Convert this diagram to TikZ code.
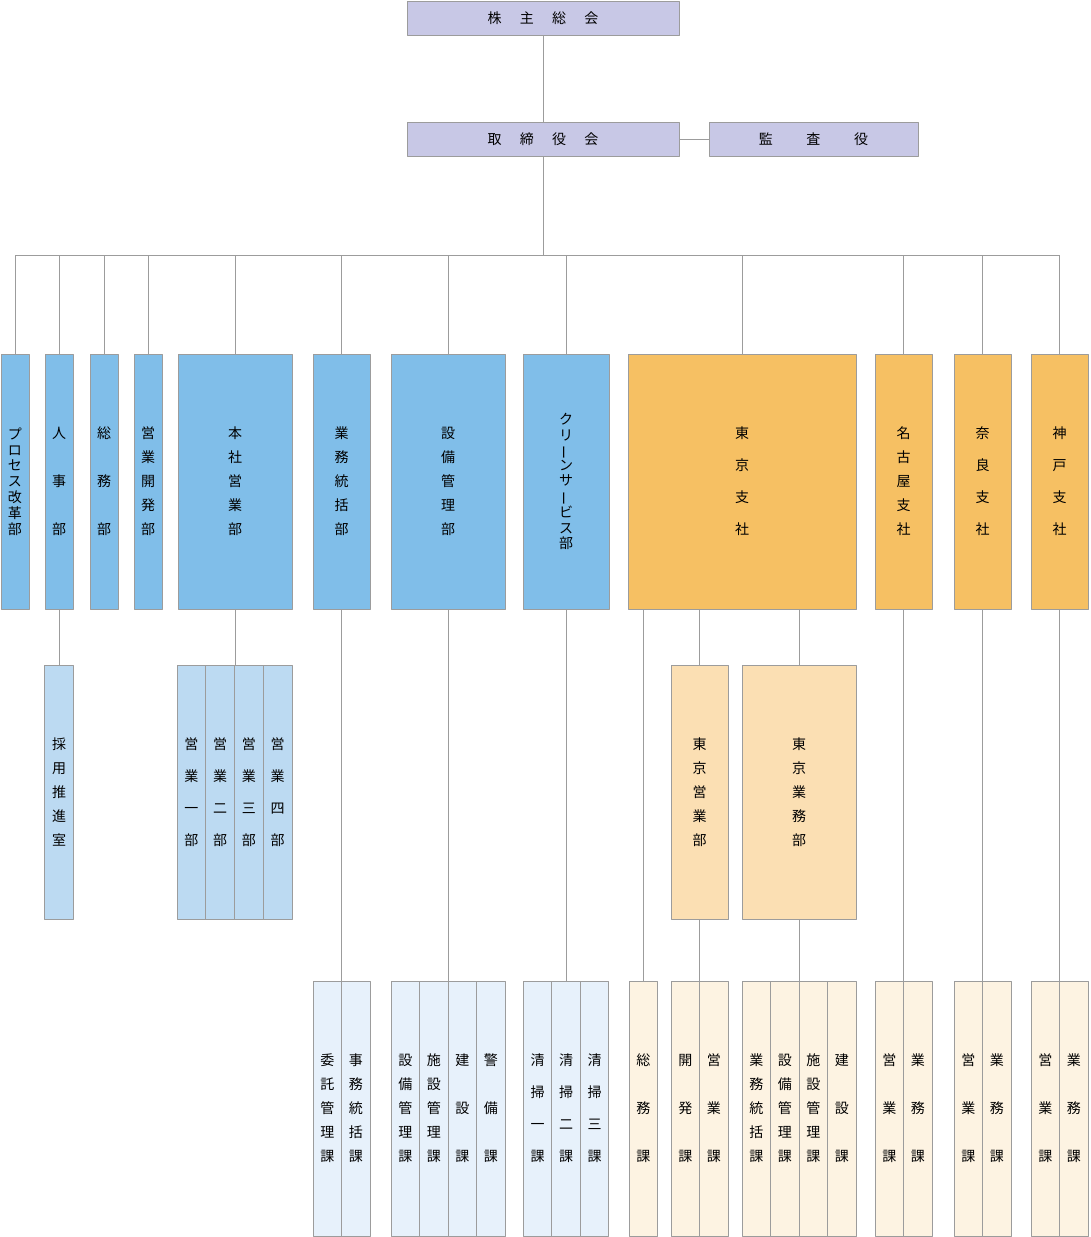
\documentclass[tikz,border=0pt]{standalone}
\usepackage{fontspec}
\newfontfamily\jp{Noto Sans CJK JP}
\usetikzlibrary{positioning}

\definecolor{wire}{HTML}{9C9C9C}
\definecolor{board}{HTML}{C8C8E6}
\definecolor{dept}{HTML}{80BEE9}
\definecolor{sect}{HTML}{BCDAF2}
\definecolor{unit}{HTML}{E7F1FB}
\definecolor{branch}{HTML}{F6C063}
\definecolor{bsect}{HTML}{FBDFB3}
\definecolor{bunit}{HTML}{FDF3E2}

\begin{document}
\begin{tikzpicture}[
  x=1pt, y=-1pt,
  line join=round,
  box/.style={draw=wire, line width=0.9pt, inner sep=0pt, outer sep=0pt, align=center},
  top/.style={box, fill=board, minimum width=272, minimum height=34,
    font=\jp\fontsize{14}{17}\selectfont},
  col/.style={box, minimum width=28.5, minimum height=255},
  sp/.style={font=\jp\fontsize{14}{#1}\selectfont},
  link/.style={draw=wire, line width=0.9pt},
]
\useasboundingbox (0,0) rectangle (1090,1237);

% ── the meeting, the board and the auditor ───────────────────────────────
\node[top] (agm) at (543,18) {株\hskip1.3em主\hskip1.3em総\hskip1.3em会};
\node[top] (bod) at (543,139) {取\hskip1.3em締\hskip1.3em役\hskip1.3em会};
\node[top, minimum width=209] (audit) at (813.5,139) {監\hskip2.4em査\hskip2.4em役};

% ── departments and branches ─────────────────────────────────────────────
\node[col, fill=dept, minimum width=28, sp=15.8] (kaikaku) at (15,481.5) {プ\\ロ\\セ\\ス\\改\\革\\部};
\node[col, fill=dept, minimum width=28, sp=48] (jinji) at (59,481.5) {人\\事\\部};
\node[col, fill=dept, minimum width=28, sp=48] (soumu) at (104,481.5) {総\\務\\部};
\node[col, fill=dept, minimum width=28, sp=24] (kaihatsu) at (148,481.5) {営\\業\\開\\発\\部};
\node[col, fill=dept, minimum width=114, sp=24] (honsha) at (235,481.5) {本\\社\\営\\業\\部};
\node[col, fill=dept, minimum width=57, sp=24] (gyomu) at (341.5,481.5) {業\\務\\統\\括\\部};
\node[col, fill=dept, minimum width=114, sp=24] (setsubi) at (448,481.5) {設\\備\\管\\理\\部};
\node[col, fill=dept, minimum width=86, sp=15.3] (clean) at (566,481.5)
  {ク\\リ\\\rotatebox[origin=c]{90}{ー}\\ン\\サ\\\rotatebox[origin=c]{90}{ー}\\ビ\\ス\\部};
\node[col, fill=branch, minimum width=228, sp=32] (tokyo) at (742,481.5) {東\\京\\支\\社};
\node[col, fill=branch, minimum width=57, sp=24] (nagoya) at (903.5,481.5) {名\\古\\屋\\支\\社};
\node[col, fill=branch, minimum width=57, sp=32] (nara) at (982.5,481.5) {奈\\良\\支\\社};
\node[col, fill=branch, minimum width=57, sp=32] (kobe) at (1059.5,481.5) {神\\戸\\支\\社};

% ── offices under them ───────────────────────────────────────────────────
\node[col, fill=sect, minimum height=254, sp=24] (saiyo) at (59,792) {採\\用\\推\\進\\室};
\node[col, fill=sect, minimum width=28.75, minimum height=254, sp=32] (eigyo1) at (191.4,792) {営\\業\\一\\部};
\node[col, fill=sect, minimum width=28.75, minimum height=254, sp=32, right=0pt of eigyo1] (eigyo2) {営\\業\\二\\部};
\node[col, fill=sect, minimum width=28.75, minimum height=254, sp=32, right=0pt of eigyo2] (eigyo3) {営\\業\\三\\部};
\node[col, fill=sect, minimum width=28.75, minimum height=254, sp=32, right=0pt of eigyo3] (eigyo4) {営\\業\\四\\部};
\node[col, fill=bsect, minimum width=57, minimum height=254, sp=24] (tsales) at (699.5,792) {東\\京\\営\\業\\部};
\node[col, fill=bsect, minimum width=114, minimum height=254, sp=24] (tops) at (799,792) {東\\京\\業\\務\\部};

% ── sections, bottom row ─────────────────────────────────────────────────
\node[col, fill=unit, sp=24] (itaku) at (327.25,1108.5) {委\\託\\管\\理\\課};
\node[col, fill=unit, sp=24, right=0pt of itaku] (jimu) {事\\務\\統\\括\\課};

\node[col, fill=unit, sp=24] (setsubika) at (405.25,1108.5) {設\\備\\管\\理\\課};
\node[col, fill=unit, sp=24, right=0pt of setsubika] (shisetsuka) {施\\設\\管\\理\\課};
\node[col, fill=unit, sp=48, right=0pt of shisetsuka] (kensetsuka) {建\\設\\課};
\node[col, fill=unit, sp=48, right=0pt of kensetsuka] (keibika) {警\\備\\課};

\node[col, fill=unit, sp=32] (seisou1) at (537.5,1108.5) {清\\掃\\一\\課};
\node[col, fill=unit, sp=32, right=0pt of seisou1] (seisou2) {清\\掃\\二\\課};
\node[col, fill=unit, sp=32, right=0pt of seisou2] (seisou3) {清\\掃\\三\\課};

\node[col, fill=bunit, sp=48] (tsoumu) at (643.25,1108.5) {総\\務\\課};

\node[col, fill=bunit, sp=48] (tkaihatsu) at (685.25,1108.5) {開\\発\\課};
\node[col, fill=bunit, sp=48, right=0pt of tkaihatsu] (teigyo) {営\\業\\課};

\node[col, fill=bunit, sp=24] (tgyomu) at (756.25,1108.5) {業\\務\\統\\括\\課};
\node[col, fill=bunit, sp=24, right=0pt of tgyomu] (tsetsubi) {設\\備\\管\\理\\課};
\node[col, fill=bunit, sp=24, right=0pt of tsetsubi] (tshisetsu) {施\\設\\管\\理\\課};
\node[col, fill=bunit, sp=48, right=0pt of tshisetsu] (tkensetsu) {建\\設\\課};

\node[col, fill=bunit, sp=48] (neigyo) at (889.25,1108.5) {営\\業\\課};
\node[col, fill=bunit, sp=48, right=0pt of neigyo] (ngyomu) {業\\務\\課};
\node[col, fill=bunit, sp=48] (naeigyo) at (968.25,1108.5) {営\\業\\課};
\node[col, fill=bunit, sp=48, right=0pt of naeigyo] (nagyomu) {業\\務\\課};
\node[col, fill=bunit, sp=48] (keigyo) at (1045.25,1108.5) {営\\業\\課};
\node[col, fill=bunit, sp=48, right=0pt of keigyo] (kgyomu) {業\\務\\課};

% ── the lines ────────────────────────────────────────────────────────────
\coordinate (bus) at (543,255);
\draw[link] (agm) -- (bod);
\draw[link] (bod) -- (audit);
\draw[link] (bod) -- (bus);
\draw[link] (kaikaku.north |- bus) -- (kobe.north |- bus);
\foreach \d in {kaikaku,jinji,soumu,kaihatsu,honsha,gyomu,setsubi,clean,tokyo,nagoya,nara,kobe}
  \draw[link] (\d.north |- bus) -- (\d.north);

\draw[link] (jinji) -- (saiyo);
\draw[link] (honsha.south) -- (honsha.south |- eigyo1.north);
\draw[link] (tsales.north |- tokyo.south) -- (tsales.north);
\draw[link] (tops.north |- tokyo.south) -- (tops.north);

% down to the sections, each line meets the seam of its row
\draw[link] (gyomu.south) -- (gyomu.south |- itaku.north);
\draw[link] (setsubi.south) -- (setsubi.south |- setsubika.north);
\draw[link] (clean.south) -- (clean.south |- seisou1.north);
\draw[link] (tsoumu.north |- tokyo.south) -- (tsoumu.north);
\draw[link] (tsales.south) -- (tsales.south |- tkaihatsu.north);
\draw[link] (tops.south) -- (tops.south |- tgyomu.north);
\foreach \d/\s in {nagoya/neigyo,nara/naeigyo,kobe/keigyo}
  \draw[link] (\d.south) -- (\d.south |- \s.north);

\end{tikzpicture}
\end{document}
